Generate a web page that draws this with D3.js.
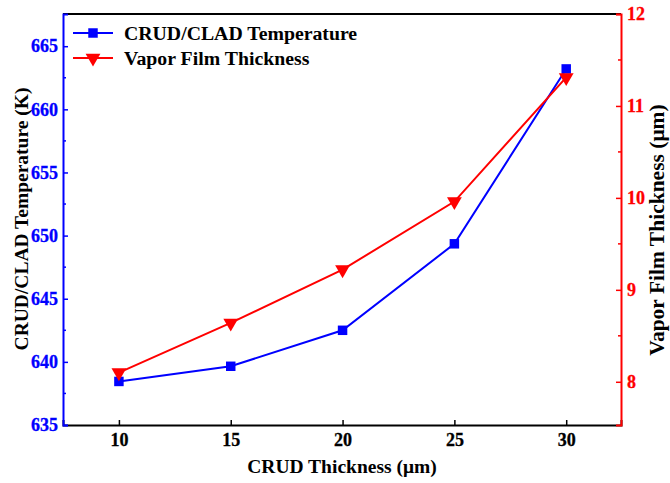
<!DOCTYPE html>
<html>
<head>
<meta charset="utf-8">
<script src="https://cdn.jsdelivr.net/npm/d3@7"></script>
<style>
  html, body { margin: 0; padding: 0; background: #fff; }
  svg { display: block; }
  svg text { font-family: "Liberation Serif", "Times New Roman", serif !important; font-weight: bold !important; }
</style>
</head>
<body>
<svg id="chart" width="670" height="483"></svg>
<script>
// CRUD thickness (μm) on the x axis
const crudThickness = [10, 15, 20, 25, 30];
// CRUD/CLAD interface temperature (K), left axis
const cladTemperature = [638.45, 639.65, 642.5, 649.35, 663.2];
// Vapor film thickness (μm), right axis
const vaporFilm = [8.1, 8.64, 9.22, 9.96, 11.31];

const xTicks = [10, 15, 20, 25, 30];
const leftTicks = [635, 640, 645, 650, 655, 660, 665];
const leftMinor = [637.5, 642.5, 647.5, 652.5, 657.5, 662.5];
const rightTicks = [8, 9, 10, 11, 12];
const rightMinor = [8.5, 9.5, 10.5, 11.5];

const seriesNames = ["CRUD/CLAD Temperature", "Vapor Film Thickness"];

const BLUE = "#0000ff", RED = "#ff0000";
const FONT = "Liberation Serif";
const m = { left: 63, right: 621, top: 14, bottom: 425 };

const svg = d3.select("#chart");

const x = d3.scaleLinear().domain([7.5, 32.45]).range([m.left, m.right]);
const yL = d3.scaleLinear().domain([635, 667.55]).range([m.bottom, m.top]);
const yR = d3.scaleLinear().domain([7.53, 12]).range([m.bottom, m.top]);

function styleAxis(g, color) {
  g.attr("font-family", FONT).attr("font-weight", "bold").attr("font-size", 18);
  g.select(".domain").attr("stroke", color).attr("stroke-width", 2);
  g.selectAll(".tick line").attr("stroke", color).attr("stroke-width", 1.5);
  g.selectAll(".tick text").attr("fill", color)
    .attr("stroke", color).attr("stroke-width", 0.3);
}

// Top frame line
svg.append("line").attr("x1", m.left).attr("x2", m.right).attr("y1", m.top).attr("y2", m.top)
  .attr("stroke", "#000").attr("stroke-width", 2);

// X axis (ticks point inward)
svg.append("g").attr("transform", `translate(0,${m.bottom})`)
  .call(d3.axisBottom(x).tickValues(xTicks).tickSize(-5).tickPadding(8).tickFormat(d3.format("d")))
  .call(g => styleAxis(g, "#000"));

// Left axis
svg.append("g").attr("transform", `translate(${m.left},0)`)
  .call(d3.axisLeft(yL).tickValues(leftTicks).tickSize(-5).tickPadding(5).tickFormat(d3.format("d")))
  .call(g => styleAxis(g, BLUE));
svg.append("g").selectAll("line").data(leftMinor).join("line")
  .attr("x1", m.left).attr("x2", m.left + 3).attr("y1", d => yL(d)).attr("y2", d => yL(d))
  .attr("stroke", BLUE).attr("stroke-width", 1.5);

// Right axis
svg.append("g").attr("transform", `translate(${m.right},0)`)
  .call(d3.axisRight(yR).tickValues(rightTicks).tickSize(-5).tickPadding(6).tickFormat(d3.format("d")))
  .call(g => styleAxis(g, RED));
svg.append("g").selectAll("line").data(rightMinor).join("line")
  .attr("x1", m.right - 3).attr("x2", m.right).attr("y1", d => yR(d)).attr("y2", d => yR(d))
  .attr("stroke", RED).attr("stroke-width", 1.5);

// Axis titles
svg.append("text").attr("x", (m.left + m.right) / 2).attr("y", 473)
  .attr("text-anchor", "middle").attr("font-size", 19.5).attr("fill", "#000")
  .text("CRUD Thickness (μm)");
svg.append("text").attr("transform", `translate(28,219) rotate(-90)`)
  .attr("text-anchor", "middle").attr("font-size", 19.5).attr("fill", "#000")
  .text("CRUD/CLAD Temperature (K)");
svg.append("text").attr("transform", `translate(664,230) rotate(-90)`)
  .attr("text-anchor", "middle").attr("font-size", 21.5).attr("fill", "#000")
  .text("Vapor Film Thickness (μm)");

// Series
const tempPts = crudThickness.map((c, i) => [c, cladTemperature[i]]);
const filmPts = crudThickness.map((c, i) => [c, vaporFilm[i]]);

svg.append("path").datum(tempPts)
  .attr("d", d3.line().x(d => x(d[0])).y(d => yL(d[1])))
  .attr("fill", "none").attr("stroke", BLUE).attr("stroke-width", 2);
svg.append("path").datum(filmPts)
  .attr("d", d3.line().x(d => x(d[0])).y(d => yR(d[1])))
  .attr("fill", "none").attr("stroke", RED).attr("stroke-width", 2);

const sq = d3.symbol().type(d3.symbolSquare).size(90);
const tri = d3.symbol().type(d3.symbolTriangle).size(95);

svg.append("g").selectAll("path").data(tempPts).join("path")
  .attr("d", sq).attr("transform", d => `translate(${x(d[0])},${yL(d[1])})`)
  .attr("fill", BLUE);
svg.append("g").selectAll("path").data(filmPts).join("path")
  .attr("d", tri).attr("transform", d => `translate(${x(d[0])},${yR(d[1])}) rotate(180)`)
  .attr("fill", RED);

// Legend
const legend = svg.append("g");
const legendRows = [
  { name: seriesNames[0], color: BLUE, sym: sq, rot: 0, y: 33 },
  { name: seriesNames[1], color: RED, sym: tri, rot: 180, y: 58 }
];
legendRows.forEach(r => {
  legend.append("line").attr("x1", 73).attr("x2", 113).attr("y1", r.y).attr("y2", r.y)
    .attr("stroke", r.color).attr("stroke-width", 2);
  legend.append("path").attr("d", r.sym).attr("transform", `translate(93,${r.y}) rotate(${r.rot})`)
    .attr("fill", r.color);
  legend.append("text").attr("x", 124).attr("y", r.y + 6.5).attr("font-size", 19.8).attr("fill", "#000")
    .text(r.name);
});
</script>
</body>
</html>
